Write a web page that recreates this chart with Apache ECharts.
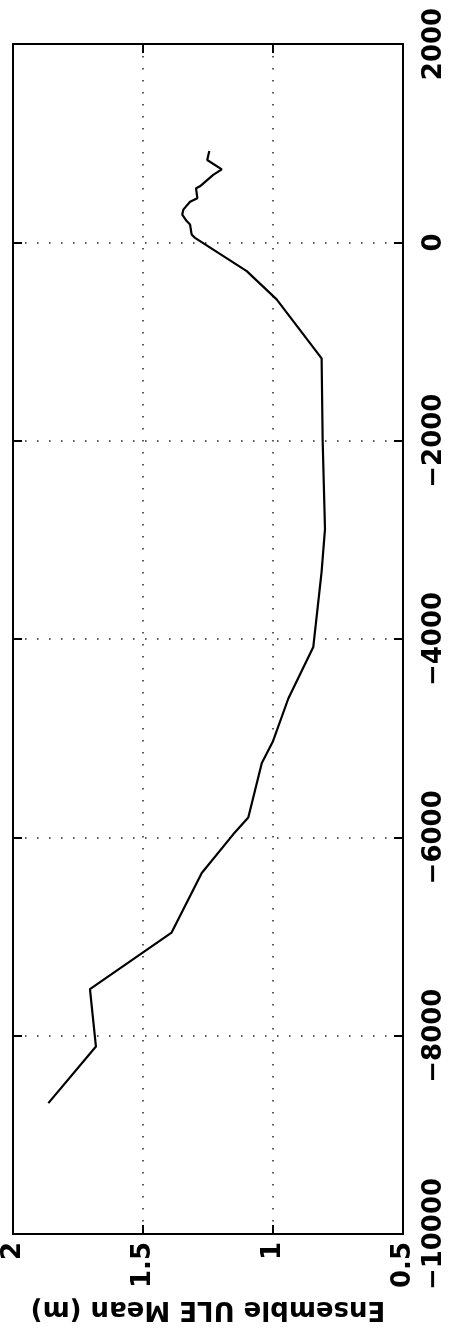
<!DOCTYPE html>
<html>
<head>
<meta charset="utf-8">
<script src="https://cdn.jsdelivr.net/npm/echarts@6/dist/echarts.min.js"></script>
<style>
html,body{margin:0;padding:0;background:#fff;}
#chart{width:455px;height:1335px;}
</style>
</head>
<body>
<div id="chart"></div>
<script>
// Original-plot x values (depth-like coordinate), shown vertically
const positions = [-8680, -8110, -7530, -6960, -6360, -5970, -5800, -5250, -5030, -4600, -4080, -3320, -2890, -2000, -1170, -575, -290, 45, 80, 180, 215, 280, 330, 410, 445, 545, 565, 680, 735, 830, 920];
// Ensemble ULE Mean (m), shown horizontally
const uleMean = [1.864, 1.681, 1.704, 1.390, 1.274, 1.153, 1.095, 1.043, 1.000, 0.941, 0.845, 0.813, 0.800, 0.809, 0.813, 0.986, 1.101, 1.300, 1.313, 1.319, 1.332, 1.349, 1.345, 1.319, 1.291, 1.296, 1.281, 1.230, 1.197, 1.253, 1.245];
const valueTicks = [0.5, 1, 1.5, 2];
const positionTicks = [-10000, -8000, -6000, -4000, -2000, 0, 2000];
const valueAxisTitle = 'Ensemble ULE Mean (m)';

const FONT = 'DejaVu Sans';
const FS = 26;
const chart = echarts.init(document.getElementById('chart'));
const grid = {left: 13, right: 52, top: 44, bottom: 101};
const gridLine = {show: true, lineStyle: {color: '#222', width: 1.5, type: [1.5, 10.5]}};
const axisLine = {show: true, onZero: false, lineStyle: {color: '#000', width: 2}};
const tick = {show: true, inside: true, length: 9, lineStyle: {color: '#000', width: 2}};

chart.setOption({
  animation: false,
  backgroundColor: '#fff',
  grid: grid,
  xAxis: [{
    type: 'value', min: valueTicks[0], max: valueTicks[valueTicks.length - 1], interval: 0.5,
    inverse: true, position: 'bottom',
    axisLine: axisLine, axisTick: tick, splitLine: gridLine,
    axisLabel: {rotate: 90, margin: 8, color: '#000', fontFamily: FONT, fontWeight: 'bold', fontSize: FS,
      formatter: v => String(v)},
    name: valueAxisTitle, nameLocation: 'middle', nameGap: 62, nameRotate: 180,
    nameTextStyle: {color: '#000', fontFamily: FONT, fontWeight: 'bold', fontSize: FS}
  }, {
    type: 'value', min: 0.5, max: 2, interval: 0.5, inverse: true, position: 'top',
    axisLine: axisLine, axisTick: tick, splitLine: {show: false}, axisLabel: {show: false}
  }],
  yAxis: [{
    type: 'value', min: positionTicks[0], max: positionTicks[positionTicks.length - 1], interval: 2000,
    position: 'right',
    axisLine: axisLine, axisTick: tick, splitLine: gridLine,
    axisLabel: {rotate: 90, margin: 18, color: '#000', fontFamily: FONT, fontWeight: 'bold', fontSize: FS,
      formatter: v => String(v).replace('-', '\u2212')}
  }, {
    type: 'value', min: -10000, max: 2000, interval: 2000, position: 'left',
    axisLine: axisLine, axisTick: tick, splitLine: {show: false}, axisLabel: {show: false}
  }],
  series: [{
    type: 'line', xAxisIndex: 0, yAxisIndex: 0,
    data: positions.map((p, i) => [uleMean[i], p]),
    symbol: 'none', lineStyle: {color: '#000', width: 2.2}
  }]
});
</script>
</body>
</html>
